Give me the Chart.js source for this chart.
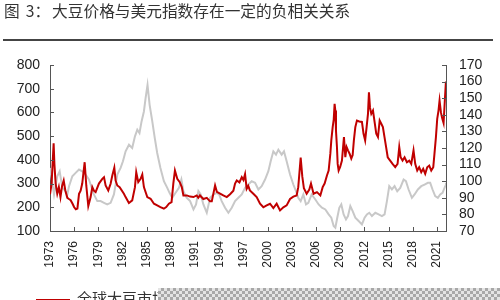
<!DOCTYPE html>
<html>
<head>
<meta charset="utf-8">
<script src="https://cdn.jsdelivr.net/npm/chart.js"></script>
<style>
  html, body { margin: 0; padding: 0; background: #fff; overflow: hidden; }
  body { width: 500px; height: 300px; position: relative; font-family: "Noto Sans CJK SC", sans-serif; }
  #title { position: absolute; left: 4px; top: 1px; font-size: 15.7px; line-height: 20px; color: #333; white-space: nowrap; }
  #title .n { margin-left: 6px; margin-right: 2px; }
  #rule { position: absolute; left: 3px; top: 39px; width: 490px; height: 2px; background: #444; }
  #chart { position: absolute; left: 0; top: 0; }
  #legend { position: absolute; left: 36px; top: 288px; font-size: 15px; line-height: 20px; color: #333; white-space: nowrap; }
  #legend i { display: inline-block; width: 34px; height: 2px; background: #c00000; vertical-align: middle; margin-right: 7px; }
  #mask { position: absolute; left: 158px; top: 288px; width: 342px; height: 12px;
          background: repeating-conic-gradient(#a8a8a8 0 25%, #e4e4e4 0 50%) 0 0 / 6px 6px; }
</style>
</head>
<body>
<canvas id="chart" width="500" height="300"></canvas>
<div id="title">图<span class="n">3：</span>大豆价格与美元指数存在一定的负相关关系</div>
<div id="rule"></div>
<div id="legend"><i></i>全球大豆市场价格</div>
<div id="mask"></div>
<script>
// 横轴刻度
const tickYears = [1973, 1976, 1979, 1982, 1985, 1988, 1991, 1994, 1997, 2000, 2003, 2006, 2009, 2012, 2015, 2018, 2021];
const tickLabels = tickYears.map(String);

// 全球大豆市场价格（左轴）
const soyYears = [
  1973.0, 1973.2, 1973.45, 1973.55, 1973.7, 1973.9, 1974.1, 1974.3, 1974.5, 1974.7, 1974.9,
  1975.15, 1975.35, 1975.56, 1975.8, 1976.0, 1976.2, 1976.4, 1976.6, 1976.8, 1977.0, 1977.3,
  1977.5, 1977.75, 1978.04, 1978.25, 1978.45, 1978.66, 1979.07, 1979.49, 1979.7, 1979.9,
  1980.23, 1980.52, 1980.73, 1980.98, 1981.14, 1981.35, 1981.64, 1982.17, 1982.38, 1982.79,
  1983.2, 1983.54, 1983.7, 1983.95, 1984.24, 1984.45, 1984.65, 1985.07, 1985.48, 1985.9,
  1986.3, 1986.7, 1987.13, 1987.42, 1987.75, 1988.08, 1988.3, 1988.5, 1988.79, 1989.1,
  1989.35, 1989.55, 1989.97, 1990.38, 1990.8, 1991.2, 1991.4, 1991.6, 1992.03, 1992.45,
  1992.86, 1993.07, 1993.48, 1993.7, 1994.1, 1994.5, 1994.93, 1995.34, 1995.75, 1995.96,
  1996.17, 1996.5, 1996.79, 1997.0, 1997.2, 1997.4, 1997.6, 1997.8, 1998.23, 1998.64,
  1999.06, 1999.47, 1999.88, 2000.3, 2000.71, 2001.12, 2001.54, 2001.95, 2002.36, 2002.78,
  2003.19, 2003.6, 2003.8, 2004.1, 2004.3, 2004.5, 2004.84, 2005.17, 2005.38, 2005.7,
  2006.12, 2006.54, 2006.83, 2007.07, 2007.36, 2007.57, 2007.78, 2007.9, 2008.07, 2008.2,
  2008.31, 2008.4, 2008.48, 2008.6, 2008.69, 2008.81, 2009.0, 2009.22, 2009.47, 2009.64,
  2009.8, 2009.97, 2010.17, 2010.38, 2010.55, 2010.7, 2010.88, 2011.08, 2011.37, 2011.7,
  2011.9, 2012.1, 2012.28, 2012.45, 2012.57, 2012.7, 2012.86, 2013.07, 2013.27, 2013.48,
  2013.69, 2013.9, 2014.1, 2014.3, 2014.5, 2014.7, 2014.9, 2015.2, 2015.5, 2015.83,
  2016.12, 2016.33, 2016.5, 2016.74, 2016.99, 2017.28, 2017.57, 2017.82, 2018.1, 2018.31,
  2018.56, 2018.8, 2019.06, 2019.3, 2019.55, 2019.8, 2020.05, 2020.3, 2020.55, 2020.7,
  2020.88, 2021.04, 2021.2, 2021.33, 2021.5, 2021.66, 2021.83, 2022.0, 2022.12
];
const soyValues = [
  255, 300, 470, 380, 300, 257, 285, 243, 290, 313, 271,
  240, 235, 230, 215, 200, 192, 195, 257, 270, 300, 390,
  292, 205, 243, 285, 270, 264, 300, 320, 327, 292,
  271, 299, 334, 367, 313, 292, 285, 257, 243, 218,
  229, 285, 348, 306, 320, 338, 285, 243, 236, 215,
  208, 201, 194, 201, 215, 222, 300, 355, 320, 306,
  285, 250, 250, 245, 243, 250, 240, 250, 235, 240,
  225, 225, 292, 265, 258, 250, 243, 255, 270, 300,
  313, 305, 327, 315, 340, 278, 290, 271, 257, 243,
  215, 200, 208, 215, 197, 215, 187, 200, 208, 235,
  245, 250, 285, 410, 330, 280, 257, 275, 300, 257,
  264, 250, 285, 300, 334, 355, 426, 482, 538, 570,
  636, 608, 524, 454, 383, 355, 370, 397, 496, 411,
  454, 440, 426, 405, 420, 482, 538, 566, 562, 560,
  510, 482, 538, 594, 685, 620, 594, 608, 560, 510,
  496, 566, 552, 538, 496, 454, 411, 397, 383, 369,
  383, 454, 411, 397, 411, 390, 397, 383, 440, 383,
  355, 369, 348, 362, 341, 369, 376, 355, 369, 426,
  496, 573, 608, 650, 600, 575, 555, 660, 730
];

// 美元指数（右轴）
const usdYears = [
  1973.0, 1973.5, 1973.9, 1974.2, 1974.53, 1974.94, 1975.15, 1975.36, 1975.77, 1976.18,
  1976.6, 1977.0, 1977.42, 1977.83, 1978.25, 1978.45, 1978.87, 1979.28, 1979.7, 1980.1,
  1980.52, 1980.93, 1981.35, 1981.76, 1982.05, 1982.38, 1982.8, 1983.2, 1983.54, 1983.83,
  1984.1, 1984.36, 1984.65, 1984.86, 1985.1, 1985.36, 1985.69, 1986.0, 1986.3, 1986.7,
  1987.13, 1987.55, 1987.83, 1988.17, 1988.58, 1989.0, 1989.3, 1989.55, 1989.97, 1990.38,
  1990.8, 1991.12, 1991.41, 1991.7, 1992.03, 1992.45, 1992.86, 1993.27, 1993.69, 1993.98,
  1994.3, 1994.72, 1995.13, 1995.55, 1995.96, 1996.37, 1996.79, 1997.2, 1997.6, 1998.02,
  1998.44, 1998.85, 1999.26, 1999.68, 2000.09, 2000.38, 2000.71, 2001.04, 2001.33, 2001.74,
  2002.03, 2002.36, 2002.78, 2003.19, 2003.52, 2003.8, 2004.1, 2004.43, 2004.76, 2005.05,
  2005.46, 2005.92, 2006.33, 2006.74, 2007.16, 2007.57, 2007.9, 2008.19, 2008.4, 2008.64,
  2008.89, 2009.14, 2009.43, 2009.72, 2009.97, 2010.26, 2010.55, 2010.88, 2011.29, 2011.7,
  2012.03, 2012.32, 2012.61, 2012.94, 2013.36, 2013.77, 2014.18, 2014.51, 2014.8, 2015.09,
  2015.42, 2015.75, 2016.08, 2016.45, 2016.87, 2017.16, 2017.49, 2017.9, 2018.23, 2018.64,
  2019.06, 2019.47, 2019.88, 2020.17, 2020.46, 2020.79, 2021.12, 2021.41, 2021.7, 2022.03,
  2022.12
];
const usdValues = [
  108, 92, 103, 106, 96, 94, 92, 97, 103, 105,
  107, 106, 104, 101, 95, 92, 88, 88, 87, 86,
  87, 92, 104, 108, 112, 118, 122, 120, 127, 131,
  129, 136, 142, 150, 158, 146, 136, 126, 117, 108,
  100, 96, 93, 90, 93, 96, 101, 94, 90, 88,
  83, 86, 94, 92, 86, 81, 90, 92, 93, 92,
  88, 84, 81, 84, 88, 90, 92, 96, 98, 100,
  99, 95, 97, 101, 106, 112, 118, 116, 119, 116,
  118, 112, 104, 98, 94, 90, 88, 92, 86, 87,
  92, 89, 86, 84, 83, 80, 78, 73, 72, 78,
  84, 86, 80, 77, 79, 85, 82, 78, 76, 74,
  78, 80, 81, 79, 81, 80, 79, 80, 88, 97,
  95, 97, 94, 96, 101, 100, 95, 90, 92, 95,
  97, 98, 99, 99, 95, 91, 90, 92, 93, 97,
  99
];

const toPoints = (xs, ys) => xs.map((x, i) => ({ x: x, y: ys[i] }));

// 刻度线朝内
const inwardTicks = {
  id: 'inwardTicks',
  afterDraw(chart) {
    const ctx = chart.ctx;
    const area = chart.chartArea;
    ctx.save();
    ctx.strokeStyle = '#555';
    ctx.lineWidth = 1;
    ctx.beginPath();
    chart.scales.x.ticks.forEach(t => {
      const px = Math.round(chart.scales.x.getPixelForValue(t.value)) + 0.5;
      ctx.moveTo(px, area.bottom);
      ctx.lineTo(px, area.bottom - 4);
    });
    chart.scales.y.ticks.forEach(t => {
      const py = Math.round(chart.scales.y.getPixelForValue(t.value)) + 0.5;
      ctx.moveTo(area.left, py);
      ctx.lineTo(area.left + 4, py);
    });
    chart.scales.y1.ticks.forEach(t => {
      const py = Math.round(chart.scales.y1.getPixelForValue(t.value)) + 0.5;
      ctx.moveTo(area.right, py);
      ctx.lineTo(area.right - 4, py);
    });
    ctx.stroke();
    ctx.restore();
  }
};

const axisFont = { family: 'Arial, "Liberation Sans", sans-serif', size: 14 };

new Chart(document.getElementById('chart'), {
  type: 'line',
  data: {
    datasets: [
      {
        label: '全球大豆市场价格',
        data: toPoints(soyYears, soyValues),
        yAxisID: 'y',
        borderColor: '#c00000',
        borderWidth: 2,
        pointRadius: 0,
        tension: 0
      },
      {
        label: '美元指数',
        data: toPoints(usdYears, usdValues),
        yAxisID: 'y1',
        borderColor: '#c8c8c8',
        borderWidth: 2,
        pointRadius: 0,
        tension: 0
      }
    ]
  },
  options: {
    responsive: false,
    animation: false,
    layout: { padding: { top: 65, left: 0, right: 0, bottom: 0 } },
    plugins: { legend: { display: false }, tooltip: { enabled: false } },
    scales: {
      x: {
        type: 'linear',
        min: 1973,
        max: 2022.13,
        afterBuildTicks: scale => { scale.ticks = tickYears.map(v => ({ value: v })); },
        afterFit: scale => { scale.height = 69; },
        grid: { display: true, drawOnChartArea: false, drawTicks: false },
        border: { display: true, color: '#555', width: 1 },
        ticks: {
          autoSkip: false,
          minRotation: 90,
          maxRotation: 90,
          padding: 10,
          color: '#222',
          font: { family: axisFont.family, size: 12 },
          callback: value => tickLabels[tickYears.indexOf(value)]
        }
      },
      y: {
        position: 'left',
        min: 100,
        max: 800,
        afterFit: scale => { scale.width = 50; },
        grid: { display: true, drawOnChartArea: false, drawTicks: false },
        border: { display: true, color: '#555', width: 1 },
        ticks: { stepSize: 100, autoSkip: false, padding: 10, color: '#222', font: axisFont }
      },
      y1: {
        position: 'right',
        min: 70,
        max: 170,
        afterFit: scale => { scale.width = 54; },
        grid: { display: true, drawOnChartArea: false, drawTicks: false },
        border: { display: true, color: '#555', width: 1 },
        ticks: { stepSize: 10, autoSkip: false, padding: 13, color: '#222', font: axisFont }
      }
    }
  },
  plugins: [inwardTicks]
});
</script>
</body>
</html>
